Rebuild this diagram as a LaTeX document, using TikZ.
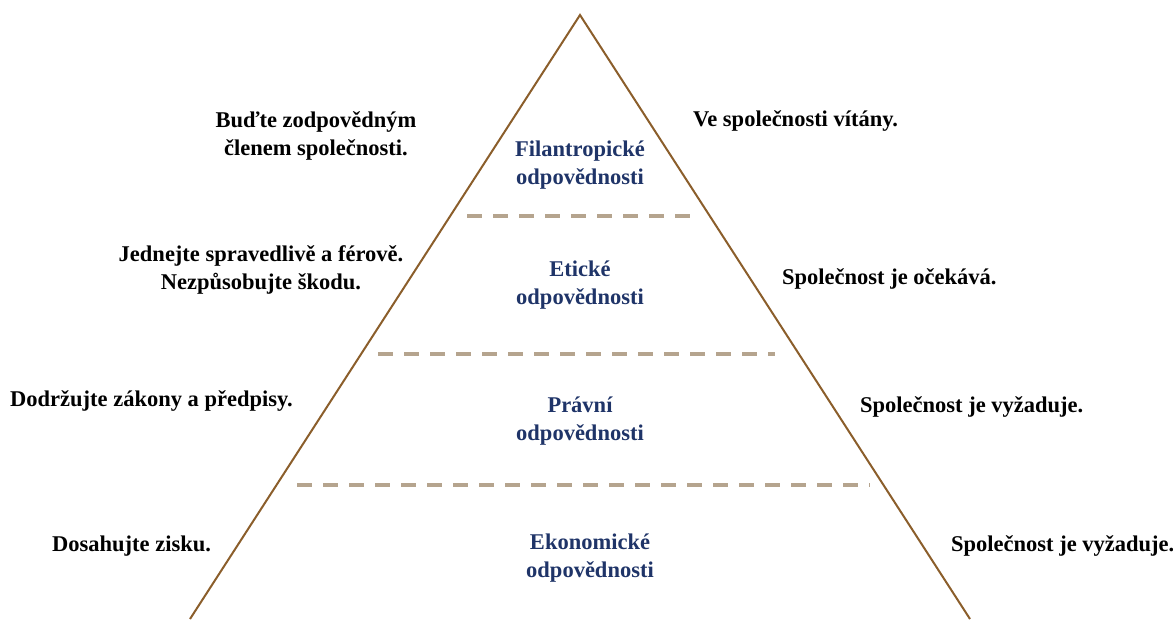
\documentclass[tikz,border=0pt]{standalone}
\usepackage{fontspec}
\setmainfont{Liberation Serif}[BoldFont={Liberation Serif Bold}]
\usetikzlibrary{positioning}

\definecolor{pyrbrown}{HTML}{8B5E2B}
\definecolor{levelgray}{HTML}{B5A48E}
\definecolor{levelblue}{HTML}{1F3468}

\tikzset{
  sidetext/.style={font=\bfseries\fontsize{22.5}{28}\selectfont, align=center, inner sep=0pt},
  leveltext/.style={sidetext, text=levelblue},
  levelline/.style={draw=levelgray, line width=4pt, dash pattern=on 15pt off 11pt},
}

\begin{document}
\begin{tikzpicture}[x=1pt, y=-1pt]
        \useasboundingbox (0,0) rectangle (1173,619);

        \coordinate (apex) at (580, 15);
        \coordinate (baseL) at (190, 619);
        \coordinate (baseR) at (970, 619);
        \draw[pyrbrown, line width=2pt] (baseL) -- (apex) -- (baseR);

        % level borders
        \coordinate (lineAL) at (467, 216);
        \coordinate (lineAR) at (690, 216);
        \coordinate (lineBL) at (378, 354);
        \coordinate (lineBR) at (775, 354);
        \coordinate (lineCL) at (297, 485);
        \coordinate (lineCR) at (870, 485);
        \draw[levelline] (lineAL) -- (lineAR);
        \draw[levelline] (lineBL) -- (lineBR);
        \draw[levelline] (lineCL) -- (lineCR);

        % levels
        \node[leveltext] (filNode) at (580, 165) {Filantropické\\odpovědnosti};
        \node[leveltext] (etiNode) at (580, 285) {Etické\\odpovědnosti};
        \node[leveltext] (praNode) at (580, 421) {Právní\\odpovědnosti};
        \node[leveltext] (ekoNode) at (590, 558) {Ekonomické\\odpovědnosti};

        % left side
        \node[sidetext] (filLeft) at (316, 136) {Buďte zodpovědným\\členem společnosti.};
        \node[sidetext] (etiLeft) at (261, 270) {Jednejte spravedlivě a férově.\\Nezpůsobujte škodu.};
        \node[sidetext, anchor=west] (praLeft) at (10, 401) {Dodržujte zákony a předpisy.};
        \node[sidetext, anchor=west] (ekoLeft) at (52, 546) {Dosahujte zisku.};

        % right side
        \node[sidetext, anchor=west] (filRight) at (693, 121) {Ve společnosti vítány.};
        \node[sidetext, anchor=west] (etiRight) at (782, 279) {Společnost je očekává.};
        \node[sidetext, anchor=west] (praRight) at (860, 407) {Společnost je vyžaduje.};
        \node[sidetext, anchor=west] (ekoRight) at (951, 546) {Společnost je vyžaduje.};
      \end{tikzpicture}
\end{document}
